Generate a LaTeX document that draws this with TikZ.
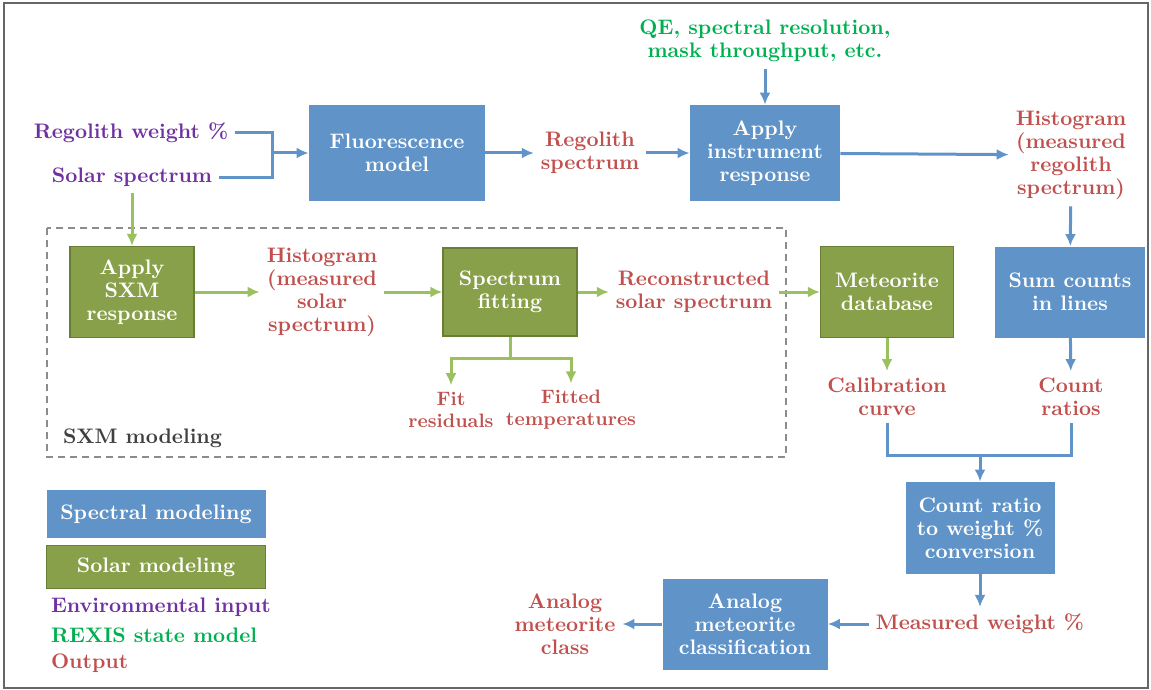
\documentclass[tikz,border=0pt]{standalone}
\usetikzlibrary{shapes.geometric, arrows, arrows.meta}
\definecolor{boxblue}{RGB}{96,148,200}
\definecolor{boxgreen}{RGB}{137,160,74}
\definecolor{edgegreen}{RGB}{104,126,52}
\definecolor{linegreen}{RGB}{155,192,94}
\definecolor{outred}{RGB}{192,80,77}
\definecolor{envpurple}{RGB}{112,48,160}
\definecolor{stategreen}{RGB}{0,176,80}
\tikzstyle{spectral} = [rectangle, text centered, align=center, fill=boxblue, text=white, inner sep=0pt]
\tikzstyle{solar} = [rectangle, text centered, align=center, fill=boxgreen, draw=edgegreen, line width=0.6pt, text=white, inner sep=0pt]
\tikzstyle{output} = [text=outred, align=center]
\tikzstyle{envin} = [text=envpurple, align=center]
\tikzstyle{statein} = [text=stategreen, align=center]
\tikzstyle{blueline} = [line width=1.5pt, draw=boxblue]
\tikzstyle{greenline} = [line width=1.5pt, draw=linegreen]
\tikzstyle{bluearrow} = [blueline, -{Latex[length=6pt,width=5.5pt]}]
\tikzstyle{greenarrow} = [greenline, -{Latex[length=6pt,width=5.5pt]}]

\begin{document}
\begin{tikzpicture}[x=0.5pt, y=-0.5pt, font=\bfseries\fontsize{10.5}{11.5}\selectfont]
\useasboundingbox (0,0) rectangle (1151,690);
\draw[black!60, line width=0.8pt] (4,3) rectangle (1148,688);

% spectral modeling chain
\node (regw) [envin] at (131,133) {Regolith weight \%};
\node (solsp) [envin] at (132,177) {Solar spectrum};
\node (fluor) [spectral, minimum width=88pt, minimum height=48pt] at (397,153) {Fluorescence\\model};
\node (regsp) [output] at (590,153) {Regolith\\spectrum};
\node (qe) [statein] at (765,41) {QE, spectral resolution,\\mask throughput, etc.};
\node (instr) [spectral, minimum width=75pt, minimum height=48pt] at (765,153) {Apply\\instrument\\response};
\node (hist) [output] at (1071,155) {Histogram\\(measured\\regolith\\spectrum)};
\node (sumc) [spectral, minimum width=75pt, minimum height=45.5pt] at (1070,292) {Sum counts\\in lines};
\node (cntr) [output] at (1071,397) {Count\\ratios};
\node (metdb) [solar, minimum width=66.5pt, minimum height=45.5pt] at (887,292) {Meteorite\\database};
\node (calib) [output] at (887,397) {Calibration\\curve};
\node (conv) [spectral, minimum width=74.5pt, minimum height=46pt] at (980,528) {Count ratio\\to weight \%\\conversion};
\node (meas) [output] at (980,624) {Measured weight \%};
\node (classif) [spectral, minimum width=82.5pt, minimum height=45.5pt] at (745,624) {Analog\\meteorite\\classification};
\node (aclass) [output] at (565,624) {Analog\\meteorite\\class};

% SXM modeling
\draw[black!45, line width=0.7pt, dash pattern=on 3.5pt off 2.5pt] (47,228) rectangle (786,457);
\node (sxmlab) [anchor=west, text=black!75] at (56,438) {SXM modeling};
\node (sxm) [solar, minimum width=62pt, minimum height=45.5pt] at (132,292) {Apply\\SXM\\response};
\node (shist) [output] at (322,292) {Histogram\\(measured\\solar\\spectrum)};
\node (fit) [solar, minimum width=67pt, minimum height=44pt] at (510,292) {Spectrum\\fitting};
\node (recon) [output] at (694,292) {Reconstructed\\solar spectrum};
\node (fitres) [output, font=\bfseries\fontsize{9.7}{11}\selectfont] at (451,410) {Fit\\residuals};
\node (fittemp) [output, font=\bfseries\fontsize{9.7}{11}\selectfont] at (571,410) {Fitted\\temperatures};

% legend
\node (legspec) [spectral, minimum width=109.5pt, minimum height=24pt] at (156,514) {Spectral modeling};
\node (legsol) [solar, minimum width=109.5pt, minimum height=21.5pt] at (156,567) {Solar modeling};
\node (legenv) [envin, anchor=west] at (44,607) {Environmental input};
\node (legstate) [statein, anchor=west] at (44,635) {REXIS state model};
\node (legout) [output, anchor=west] at (44,663) {Output};

% connectors
\coordinate (jn) at (272,153);
\coordinate (mrg) at (980,455);
\coordinate (fb) at (510,358);
\draw[blueline] (regw.east) -| (jn) |- (solsp.east);
\draw[bluearrow] (jn) -- (fluor);
\draw[bluearrow] (fluor) -- (regsp);
\draw[bluearrow] (regsp) -- (instr);
\draw[bluearrow] (qe) -- (instr);
\draw[bluearrow] (instr) -- (hist);
\draw[bluearrow] (hist) -- (sumc);
\draw[bluearrow] (sumc) -- (cntr);
\draw[greenarrow] (metdb) -- (calib);
\draw[blueline] (calib) |- (mrg) -| (cntr);
\draw[bluearrow] (mrg) -- (conv);
\draw[bluearrow] (conv) -- (meas);
\draw[bluearrow] (meas) -- (classif);
\draw[bluearrow] (classif) -- (aclass);
\draw[greenarrow] (solsp) -- (sxm);
\draw[greenarrow] (sxm) -- (shist);
\draw[greenarrow] (shist) -- (fit);
\draw[greenarrow] (fit) -- (recon);
\draw[greenarrow] (recon) -- (metdb);
\draw[greenline] (fit) -- (fb);
\draw[greenarrow] (fb) -| (fitres);
\draw[greenarrow] (fb) -| (fittemp);
\end{tikzpicture}
\end{document}
